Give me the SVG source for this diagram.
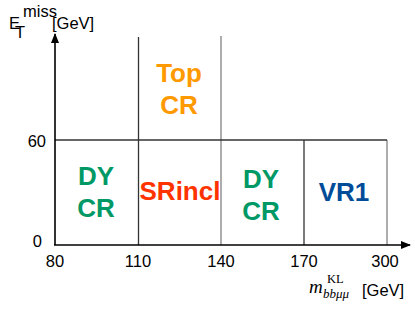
<svg xmlns="http://www.w3.org/2000/svg" width="415" height="311" viewBox="0 0 415 311">
<defs>
<style>
.ax{stroke:#000;stroke-width:1.6;fill:none}
.dk{stroke:#333;stroke-width:1.3}
.gr{stroke:#999;stroke-width:1.6}
.t{font-family:"Liberation Sans",Arial,sans-serif;font-size:16.5px;fill:#000}
.lb{font-family:"Liberation Sans",Arial,sans-serif;font-size:26px;font-weight:bold;text-anchor:middle}
.m{font-family:"Liberation Serif","DejaVu Serif",serif;font-style:italic;fill:#000}
</style>
<marker id="ar" markerWidth="10" markerHeight="8" refX="9" refY="4" orient="auto" markerUnits="userSpaceOnUse">
<path d="M0,0 L10,4 L0,8 Z" fill="#000"/>
</marker>
</defs>
<g id="connectors">
<line class="dk" x1="138.5" y1="37" x2="138.5" y2="245"/>
<line class="gr" x1="221" y1="36" x2="221" y2="245"/>
<line class="dk" x1="304" y1="140" x2="304" y2="245"/>
<line class="gr" x1="387" y1="140" x2="387" y2="245"/>
<line class="dk" x1="55" y1="140" x2="387" y2="140"/>
<line class="ax" x1="55" y1="245" x2="55" y2="34" marker-end="url(#ar)"/>
<line class="ax" x1="54" y1="245" x2="410" y2="245" marker-end="url(#ar)"/>
</g>
<g id="axis-labels">
<text class="t" x="9" y="29" font-size="18">E</text>
<text class="t" x="15" y="38" font-size="10.5">T</text>
<text class="t" x="23" y="16.5" font-size="11.5">miss</text>
<text class="t" x="52" y="29" font-size="18">[GeV]</text>
<text class="t" x="46" y="147" text-anchor="end">60</text>
<text class="t" x="42" y="247" text-anchor="end">0</text>
<text class="t" x="55" y="267" text-anchor="middle">80</text>
<text class="t" x="138" y="267" text-anchor="middle">110</text>
<text class="t" x="221" y="267" text-anchor="middle">140</text>
<text class="t" x="304" y="267" text-anchor="middle">170</text>
<text class="t" x="385" y="267" text-anchor="middle">300</text>
<text class="m" x="309" y="293" font-size="19">m</text>
<text class="m" x="323" y="298" font-size="13">bbμμ</text>
<text x="327" y="283" font-family="Liberation Serif,serif" font-size="12.5">KL</text>
<text class="t" x="362" y="296" font-size="18">[GeV]</text>
</g>
<g id="top-cr"><text class="lb" fill="#FF9900" x="179" y="82">Top</text><text class="lb" fill="#FF9900" x="179" y="114">CR</text></g>
<g id="dy-cr-1"><text class="lb" fill="#009966" x="96" y="185">DY</text><text class="lb" fill="#009966" x="96" y="217">CR</text></g>
<g id="srincl"><text class="lb" fill="#FF3300" x="180" y="200" font-size="23">SRincl</text></g>
<g id="dy-cr-2"><text class="lb" fill="#009966" x="261" y="188">DY</text><text class="lb" fill="#009966" x="261" y="220">CR</text></g>
<g id="vr1"><text class="lb" fill="#004C99" x="344" y="201" font-size="25">VR1</text></g>
</svg>
